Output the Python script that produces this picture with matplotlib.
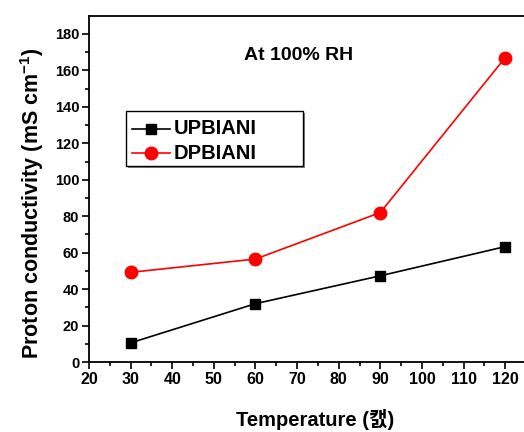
import numpy as np
import matplotlib
matplotlib.use("Agg")
import matplotlib.pyplot as plt
from matplotlib.patches import Rectangle
from matplotlib.transforms import IdentityTransform
from matplotlib.lines import Line2D

plt.rcParams['font.family'] = ['Liberation Sans', 'Noto Sans CJK KR', 'DejaVu Sans']
plt.rcParams['font.weight'] = 'bold'
plt.rcParams['mathtext.fontset'] = 'custom'
plt.rcParams['mathtext.rm'] = 'Liberation Sans:bold'
plt.rcParams['mathtext.bf'] = 'Liberation Sans:bold'
plt.rcParams['mathtext.default'] = 'bf'

temperature = [30, 60, 90, 120]
upbiani = [10.5, 32, 47.3, 63.3]
dpbiani = [49.2, 56.5, 82, 167]
series_names = ["UPBIANI", "DPBIANI"]
x_ticks = [20, 30, 40, 50, 60, 70, 80, 90, 100, 110, 120]
y_ticks = [0, 20, 40, 60, 80, 100, 120, 140, 160, 180]

W, H = 524, 432
fig = plt.figure(figsize=(W / 100, H / 100), dpi=100)
AX_L, AX_B, AX_W, AX_H = 89, 70, 437, 346.3
ax = fig.add_axes([AX_L / W, AX_B / H, AX_W / W, AX_H / H])

ax.plot(temperature, upbiani, color='black', lw=1.2, marker='s', ms=7.5,
        zorder=3)
ax.plot(temperature, dpbiani, color='red', lw=1.2, marker='o', ms=9, zorder=3)

ax.set_xlim(20, 125)
ax.set_ylim(0, 190)
ax.set_xticks(x_ticks)
ax.set_yticks(y_ticks)
ax.set_xticks(np.arange(25, 125, 10), minor=True)
ax.set_yticks(np.arange(10, 190, 20), minor=True)
ax.tick_params(axis='both', which='major', direction='out', length=5, width=1.2)
ax.tick_params(axis='both', which='minor', direction='out', length=3, width=1.2)
ax.tick_params(axis='x', labelsize=11.5, pad=2)
ax.tick_params(axis='y', labelsize=10.5, pad=2)
for lab in ax.get_xticklabels() + ax.get_yticklabels():
    lab.set_fontweight('bold')
for s in ['left', 'bottom', 'top']:
    ax.spines[s].set_linewidth(1.3)
ax.spines['right'].set_visible(False)

xl = ax.set_xlabel('Temperature (캜)', fontsize=14.5, fontweight='bold')
xl.set_verticalalignment('center')
ax.xaxis.set_label_coords((315 - AX_L) / AX_W, (H - AX_B - 420) / AX_H)
yl = ax.set_ylabel('Proton conductivity (mS cm$^{-1}$)', fontsize=15.5,
                   fontweight='bold')
yl.set_verticalalignment('center')
ax.yaxis.set_label_coords((32 - AX_L) / AX_W, (H - AX_B - 203) / AX_H)

fig.text(299 / W, 1 - 55 / H, 'At 100% RH', fontsize=14, fontweight='bold',
         ha='center', va='center')

# legend box (Origin style with shadow)
bx0, by0, bx1, by1 = 126, 111, 303, 166
fig.patches.append(Rectangle((bx0 + 2, H - by1 - 2), bx1 - bx0, by1 - by0,
                             transform=IdentityTransform(), facecolor='#888888',
                             edgecolor='none', zorder=5))
fig.patches.append(Rectangle((bx0, H - by1), bx1 - bx0, by1 - by0,
                             transform=IdentityTransform(), facecolor='white',
                             edgecolor='black', lw=1.0, zorder=6))
rows = [129, 153]
colors = ['black', 'red']
markers = ['s', 'o']
msizes = [7, 9]
for name, yy, c, m, s in zip(series_names, rows, colors, markers, msizes):
    fig.lines.append(Line2D([132, 170], [H - yy, H - yy], transform=IdentityTransform(),
                            lw=1.2, color=c, zorder=7))
    fig.lines.append(Line2D([151], [H - yy], transform=IdentityTransform(), lw=0,
                            color=c, marker=m, ms=s, zorder=8))
    fig.text(174 / W, 1 - yy / H, name, fontsize=14.5, fontweight='bold',
             ha='left', va='center', zorder=9)

fig.savefig('out.png', dpi=100)
